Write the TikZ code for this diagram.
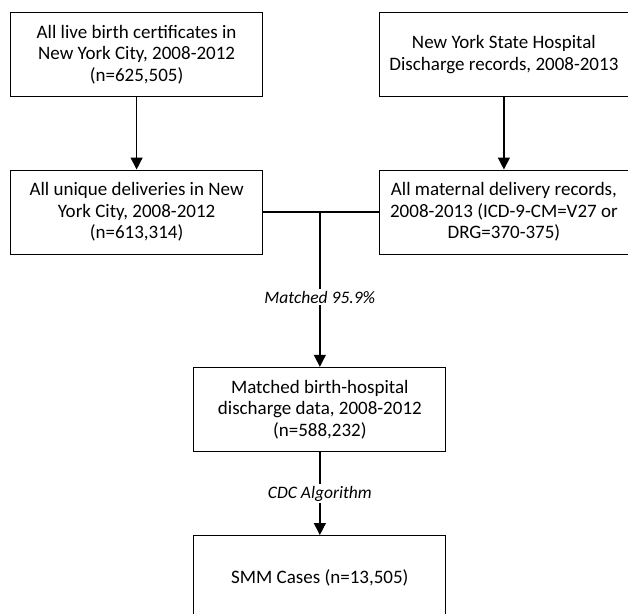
\documentclass[tikz,border=0pt]{standalone}
\usepackage{fontspec}
\setmainfont{Carlito}
\usetikzlibrary{positioning,arrows.meta,calc}

\begin{document}
\begin{tikzpicture}[
  x=1pt, y=1pt,
  node distance=72pt,
  box/.style={rectangle, draw, line width=1.2pt, minimum width=252pt, minimum height=84pt, align=center, inner sep=0pt, font=\fontsize{19}{21.5}\selectfont},
  arrow/.style={-{Triangle[width=12pt,length=12pt]}, line width=1.4pt},
  link/.style={line width=1.4pt},
  lbl/.style={fill=white, inner sep=2pt, font=\fontsize{17.5}{20}\selectfont\itshape}
]
  \useasboundingbox (0,0) rectangle (628,-613);

  % Sources
  \node[box] (births) at (136.6,-54.6) {All live birth certificates in\\New York City, 2008-2012\\(n=625,505)};
  \node[box, minimum width=249pt, right=115.6pt of births] (hosp) {New York State Hospital\\Discharge records, 2008-2013};

  % Deliveries
  \node[box, below=72.3pt of births] (deliv) {All unique deliveries in New\\York City, 2008-2012\\(n=613,314)};
  \node[box, minimum width=249pt, below=72.3pt of hosp] (matern) {All maternal delivery records,\\2008-2013 (ICD-9-CM=V27 or\\DRG=370-375)};

  % Linkage
  \coordinate (junc) at ($(deliv.east)!0.49!(matern.west)$);
  \node[box, below=154.7pt of junc] (linked) {Matched birth-hospital\\discharge data, 2008-2012\\(n=588,232)};

  % Cases
  \node[box, below=83pt of linked] (smm) {SMM Cases (n=13,505)};

  % Arrows
  \draw[arrow] (births) -- (deliv);
  \draw[arrow] (hosp) -- (matern);
  \draw[link] (deliv.east) -- (matern.west);
  \draw[arrow] (junc) -- node[lbl, pos=0.55] {Matched 95.9\%} (linked);
  \draw[arrow] (linked) -- node[lbl] {CDC Algorithm} (smm);
\end{tikzpicture}
\end{document}
